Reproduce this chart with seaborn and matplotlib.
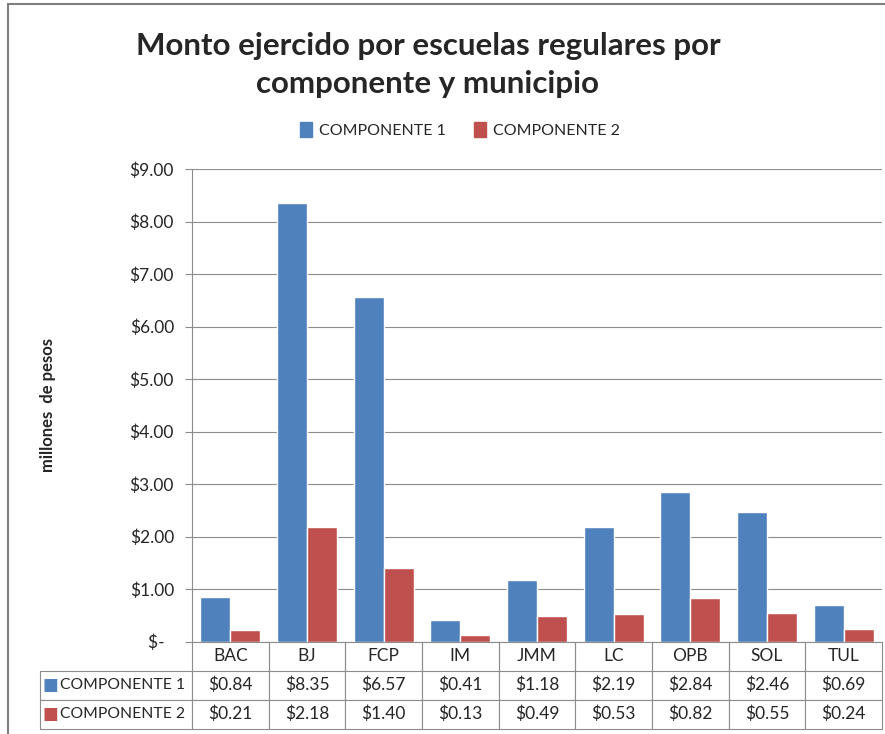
import seaborn as sns
import matplotlib.pyplot as plt
import matplotlib.patches as mpatches
from matplotlib.ticker import FuncFormatter, MultipleLocator
import pandas as pd

# Data
municipios = ['BAC', 'BJ', 'FCP', 'IM', 'JMM', 'LC', 'OPB', 'SOL', 'TUL']
componente_1 = [0.84, 8.35, 6.57, 0.41, 1.18, 2.19, 2.84, 2.46, 0.69]
componente_2 = [0.21, 2.18, 1.40, 0.13, 0.49, 0.53, 0.82, 0.55, 0.24]
series = ['COMPONENTE 1', 'COMPONENTE 2']
colors = ['#4F81BD', '#C0504D']

df = pd.DataFrame({'Municipio': municipios * 2,
                   'Componente': [series[0]] * 9 + [series[1]] * 9,
                   'Monto': componente_1 + componente_2})

sns.set_style('white')
plt.rcParams['font.family'] = ['Lato', 'DejaVu Sans']
grid_c = '#8C8C8C'

fig = plt.figure(figsize=(8.85, 7.34), dpi=100)
W, H = 885, 734
ax = fig.add_axes([192 / W, 1 - 641.5 / H, 690 / W, 472.5 / H])

sns.barplot(data=df, x='Municipio', y='Monto', hue='Componente',
            palette=colors, saturation=1, width=0.78, ax=ax, legend=False)

ax.set_ylim(0, 9)
ax.set_xlim(-0.5, 8.5)
ax.yaxis.set_major_locator(MultipleLocator(1))
ax.yaxis.set_major_formatter(FuncFormatter(lambda v, p: '$-  ' if v == 0 else f'${v:.2f}'))
ax.grid(axis='y', color=grid_c, linewidth=0.8)
ax.set_axisbelow(True)
for s in ['top', 'right']:
    ax.spines[s].set_visible(False)
for s in ['left', 'bottom']:
    ax.spines[s].set_color(grid_c)
    ax.spines[s].set_linewidth(0.8)
ax.tick_params(axis='y', left=True, length=5, width=0.8, color=grid_c, labelsize=12.5, pad=8)
ax.tick_params(axis='x', bottom=False, labelbottom=False)
ax.set_xlabel('')
ax.set_ylabel('millones  de pesos', fontsize=12, fontweight='bold', labelpad=53)

# Data table
cell_text = [[''] + municipios,
             [''] + [f'${v:.2f}' for v in componente_1],
             [''] + [f'${v:.2f}' for v in componente_2]]
lab_w = 152 / 690
tbl_h = 87 / 472.5
tbl = ax.table(cellText=cell_text, cellLoc='center',
               colWidths=[lab_w] + [1 / 9] * 9,
               bbox=[-lab_w, -tbl_h, 1 + lab_w, tbl_h])
tbl.auto_set_font_size(False)
tbl.set_fontsize(12.5)
for (r, c), cell in tbl.get_celld().items():
    cell.set_edgecolor(grid_c)
    cell.set_linewidth(0.8)
    if r == 0:
        cell.visible_edges = '' if c == 0 else 'LR'

# Row labels with colour keys
for i, (name, col) in enumerate(zip(series, colors)):
    yc = -tbl_h * (i + 1.5) / 3
    ax.text(-lab_w + 0.003, yc, '■', color=col, fontsize=12, va='center', ha='left',
            transform=ax.transAxes, family=['DejaVu Sans'])
    ax.text(-lab_w + 0.029, yc, name, fontsize=11.3, va='center', ha='left',
            transform=ax.transAxes)

# Legend
handles = [mpatches.Patch(color=c, label=s) for s, c in zip(series, colors)]
fig.legend(handles=handles, loc='center', bbox_to_anchor=(460 / W, 1 - 130 / H), ncol=2,
           frameon=False, fontsize=11.5, handlelength=0.75, handleheight=1.1,
           handletextpad=0.4, columnspacing=1.8)

# Title
fig.text(428 / W, 1 - 65 / H, 'Monto ejercido por escuelas regulares por\ncomponente y municipio',
         ha='center', va='center', fontsize=22.5, fontweight='bold', linespacing=1.45)

# Chart frame
fig.add_artist(mpatches.Rectangle((8 / W, -0.05), 1.0, 1 - 4 / H + 0.05, fill=False,
                                  edgecolor='#7F7F7F', linewidth=1.5, transform=fig.transFigure))

fig.savefig('out.png', dpi=100)
